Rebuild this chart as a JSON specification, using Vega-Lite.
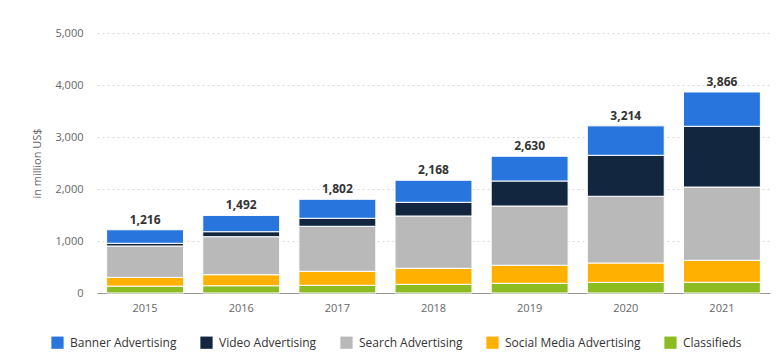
{
  "$schema": "https://vega.github.io/schema/vega-lite/v6.json",
  "width": 673,
  "height": 260,
  "autosize": {"type": "none"},
  "padding": {"left": 97, "top": 33, "right": 6, "bottom": 65},
  "background": "white",
  "config": {
    "view": {"stroke": null},
    "font": "Open Sans"
  },
  "data": {
    "values": [
      {"year": "2015", "type": "Classifieds", "value": 132},
      {"year": "2015", "type": "Social Media Advertising", "value": 168},
      {"year": "2015", "type": "Search Advertising", "value": 604},
      {"year": "2015", "type": "Video Advertising", "value": 52},
      {"year": "2015", "type": "Banner Advertising", "value": 260},
      {"year": "2016", "type": "Classifieds", "value": 140},
      {"year": "2016", "type": "Social Media Advertising", "value": 212},
      {"year": "2016", "type": "Search Advertising", "value": 731},
      {"year": "2016", "type": "Video Advertising", "value": 96},
      {"year": "2016", "type": "Banner Advertising", "value": 313},
      {"year": "2017", "type": "Classifieds", "value": 148},
      {"year": "2017", "type": "Social Media Advertising", "value": 269},
      {"year": "2017", "type": "Search Advertising", "value": 866},
      {"year": "2017", "type": "Video Advertising", "value": 154},
      {"year": "2017", "type": "Banner Advertising", "value": 365},
      {"year": "2018", "type": "Classifieds", "value": 167},
      {"year": "2018", "type": "Social Media Advertising", "value": 308},
      {"year": "2018", "type": "Search Advertising", "value": 1006},
      {"year": "2018", "type": "Video Advertising", "value": 263},
      {"year": "2018", "type": "Banner Advertising", "value": 424},
      {"year": "2019", "type": "Classifieds", "value": 186},
      {"year": "2019", "type": "Social Media Advertising", "value": 347},
      {"year": "2019", "type": "Search Advertising", "value": 1140},
      {"year": "2019", "type": "Video Advertising", "value": 481},
      {"year": "2019", "type": "Banner Advertising", "value": 476},
      {"year": "2020", "type": "Classifieds", "value": 205},
      {"year": "2020", "type": "Social Media Advertising", "value": 372},
      {"year": "2020", "type": "Search Advertising", "value": 1283},
      {"year": "2020", "type": "Video Advertising", "value": 788},
      {"year": "2020", "type": "Banner Advertising", "value": 566},
      {"year": "2021", "type": "Classifieds", "value": 207},
      {"year": "2021", "type": "Social Media Advertising", "value": 422},
      {"year": "2021", "type": "Search Advertising", "value": 1409},
      {"year": "2021", "type": "Video Advertising", "value": 1168},
      {"year": "2021", "type": "Banner Advertising", "value": 660}
    ]
  },
  "transform": [
    {"calculate": "indexof(['Classifieds','Social Media Advertising','Search Advertising','Video Advertising','Banner Advertising'], datum.type)", "as": "stackOrder"}
  ],
  "layer": [
    {
      "mark": {"type": "bar", "stroke": "white", "strokeWidth": 1},
      "encoding": {
        "x": {
          "field": "year", "type": "nominal",
          "scale": {"paddingInner": 0.2, "paddingOuter": 0.1},
          "axis": {
            "title": null, "labelAngle": 0, "ticks": false,
            "labelFontSize": 11, "labelColor": "#666666", "labelPadding": 9,
            "domainColor": "#999999", "domainWidth": 1
          }
        },
        "y": {
          "field": "value", "type": "quantitative", "aggregate": "sum",
          "stack": "zero",
          "scale": {"domain": [0, 5000]},
          "axis": {
            "title": "in million US$", "titleFontSize": 11, "titleFontWeight": "normal",
            "titleColor": "#666666", "titlePadding": 12,
            "values": [0, 1000, 2000, 3000, 4000, 5000], "format": ",.0f",
            "labelFontSize": 11, "labelColor": "#666666", "labelPadding": 14,
            "domain": false, "ticks": false,
            "gridColor": "#d9d9d9", "gridDash": [2, 3], "gridWidth": 1
          }
        },
        "color": {
          "field": "type", "type": "nominal",
          "scale": {
            "domain": ["Banner Advertising", "Video Advertising", "Search Advertising", "Social Media Advertising", "Classifieds"],
            "range": ["#2876DD", "#12263F", "#B9B9B9", "#FFB000", "#8BBC21"]
          },
          "legend": {
            "title": null, "orient": "none", "direction": "horizontal",
            "legendX": -46, "legendY": 303,
            "symbolType": "square", "symbolSize": 150, "symbolStrokeWidth": 0,
            "labelFontSize": 12, "labelColor": "#333333",
            "columnPadding": 23, "symbolOffset": 0, "labelOffset": 6
          }
        },
        "order": {"field": "stackOrder", "type": "quantitative"}
      }
    },
    {
      "transform": [
        {"aggregate": [{"op": "sum", "field": "value", "as": "total"}], "groupby": ["year"]}
      ],
      "mark": {"type": "text", "dy": -10, "fontSize": 12, "fontWeight": "bold", "color": "#333333"},
      "encoding": {
        "x": {"field": "year", "type": "nominal"},
        "y": {"field": "total", "type": "quantitative"},
        "text": {"field": "total", "type": "quantitative", "format": ","}
      }
    }
  ]
}
